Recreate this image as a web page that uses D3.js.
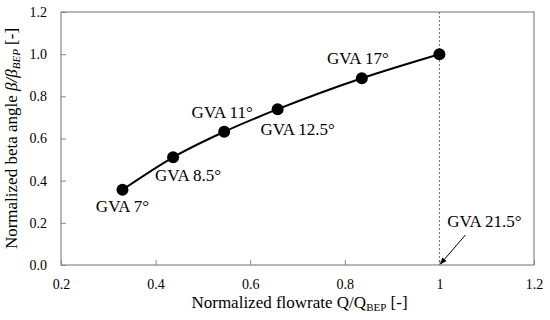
<!DOCTYPE html>
<html>
<head>
<meta charset="utf-8">
<script src="https://cdn.jsdelivr.net/npm/d3@7"></script>
<style>
  body { margin: 0; background: #fff; }
</style>
</head>
<body>
<div id="chart"></div>
<script>
let flowrate = [0.33, 0.437, 0.545, 0.658, 0.836, 1.0]
let beta = [0.357, 0.511, 0.632, 0.739, 0.886, 1.0]
let labels = ['GVA 7°', 'GVA 8.5°', 'GVA 11°', 'GVA 12.5°', 'GVA 17°', '']
let xTicks = [0.2, 0.4, 0.6, 0.8, 1, 1.2]
let yTicks = [0, 0.2, 0.4, 0.6, 0.8, 1.0, 1.2]

// label offsets relative to point (px)
let labelDx = [0, 15, -2, 20, -4, 0]
let labelDy = [22, 24, -14, 26, -14, 0]

let serif = 'Liberation Serif'

let margin = { top: 12, left: 61, right: 16, bottom: 55 }
let width = 550 - margin.left - margin.right
let height = 320 - margin.top - margin.bottom

let svg = d3
  .select('#chart')
  .append('svg')
  .attr('width', 550)
  .attr('height', 320)
  .attr('font-family', serif)
  .append('g')
  .attr('transform', 'translate(' + margin.left + ',' + margin.top + ')')

let x = d3.scaleLinear().domain([0.2, 1.2]).range([0, width])
let y = d3.scaleLinear().domain([0, 1.2]).range([height, 0])

let xAxis = d3.axisBottom(x)
  .tickValues(xTicks)
  .tickSize(-5)
  .tickPadding(14)
  .tickFormat(d => (d === 1 ? '1' : d3.format('.1f')(d)))
let yAxis = d3.axisLeft(y)
  .tickValues(yTicks)
  .tickSize(-5)
  .tickPadding(14)
  .tickFormat(d3.format('.1f'))

svg.append('g')
  .attr('class', 'axis x-axis')
  .attr('transform', 'translate(0,' + height + ')')
  .call(xAxis)
svg.append('g')
  .attr('class', 'axis y-axis')
  .call(yAxis)

svg.selectAll('.axis').attr('font-family', serif)
svg.selectAll('.axis .domain').remove()
svg.selectAll('.axis line').attr('stroke', '#888')
svg.selectAll('.axis text')
  .attr('font-family', serif)
  .attr('font-size', 14)
  .attr('fill', '#000')

// frame
svg.append('rect')
  .attr('width', width)
  .attr('height', height)
  .attr('fill', 'none')
  .attr('stroke', '#888')
  .attr('stroke-width', 1.2)

// dotted line at Q/QBEP = 1
svg.append('line')
  .attr('x1', x(1)).attr('x2', x(1))
  .attr('y1', 0).attr('y2', height)
  .attr('stroke', '#666')
  .attr('stroke-dasharray', '2,2')

let points = flowrate.map((d, i) => ({ q: d, b: beta[i], label: labels[i], i: i }))

let line = d3.line()
  .x(d => x(d.q))
  .y(d => y(d.b))
  .curve(d3.curveMonotoneX)

svg.append('path')
  .datum(points)
  .attr('d', line)
  .attr('fill', 'none')
  .attr('stroke', '#000')
  .attr('stroke-width', 2)

svg.selectAll('.pt')
  .data(points)
  .enter()
  .append('circle')
  .attr('class', 'pt')
  .attr('cx', d => x(d.q))
  .attr('cy', d => y(d.b))
  .attr('r', 6)
  .attr('fill', '#000')

svg.selectAll('.lbl')
  .data(points)
  .enter()
  .append('text')
  .attr('class', 'lbl')
  .attr('x', d => x(d.q) + labelDx[d.i])
  .attr('y', d => y(d.b) + labelDy[d.i])
  .attr('text-anchor', 'middle')
  .attr('font-family', serif)
  .attr('font-size', 17)
  .text(d => d.label)

// GVA 21.5 annotation with arrow
svg.append('defs').append('marker')
  .attr('id', 'arrow')
  .attr('viewBox', '0 0 10 10')
  .attr('refX', 9).attr('refY', 5)
  .attr('markerWidth', 7).attr('markerHeight', 7)
  .attr('orient', 'auto')
  .append('path')
  .attr('d', 'M0,1 L10,5 L0,9 Z')
  .attr('fill', '#000')

svg.append('line')
  .attr('x1', x(1) + 26).attr('y1', y(0) - 30)
  .attr('x2', x(1) + 1).attr('y2', y(0) - 1)
  .attr('stroke', '#000')
  .attr('stroke-width', 1)
  .attr('marker-end', 'url(#arrow)')

svg.append('text')
  .attr('x', x(1) + 45)
  .attr('y', y(0) - 38)
  .attr('text-anchor', 'middle')
  .attr('font-family', serif)
  .attr('font-size', 17)
  .text('GVA 21.5°')

// axis titles
let xTitle = svg.append('text')
  .attr('x', width / 2 + 2)
  .attr('y', height + 43)
  .attr('text-anchor', 'middle')
  .attr('font-family', serif)
  .attr('font-size', 17)
xTitle.append('tspan').text('Normalized flowrate Q/Q')
xTitle.append('tspan').attr('font-size', 11).attr('dy', 3).text('BEP')
xTitle.append('tspan').attr('dy', -3).text(' [-]')

let yTitle = svg.append('text')
  .attr('transform', 'translate(-44,' + height / 2 + ') rotate(-90)')
  .attr('text-anchor', 'middle')
  .attr('font-family', serif)
  .attr('font-size', 17)
yTitle.append('tspan').text('Normalized beta angle ')
yTitle.append('tspan').attr('font-style', 'italic').text('β/β')
yTitle.append('tspan').attr('font-style', 'italic').attr('font-size', 11).attr('dy', 3).text('BEP')
yTitle.append('tspan').attr('dy', -3).text(' [-]')
</script>
</body>
</html>
